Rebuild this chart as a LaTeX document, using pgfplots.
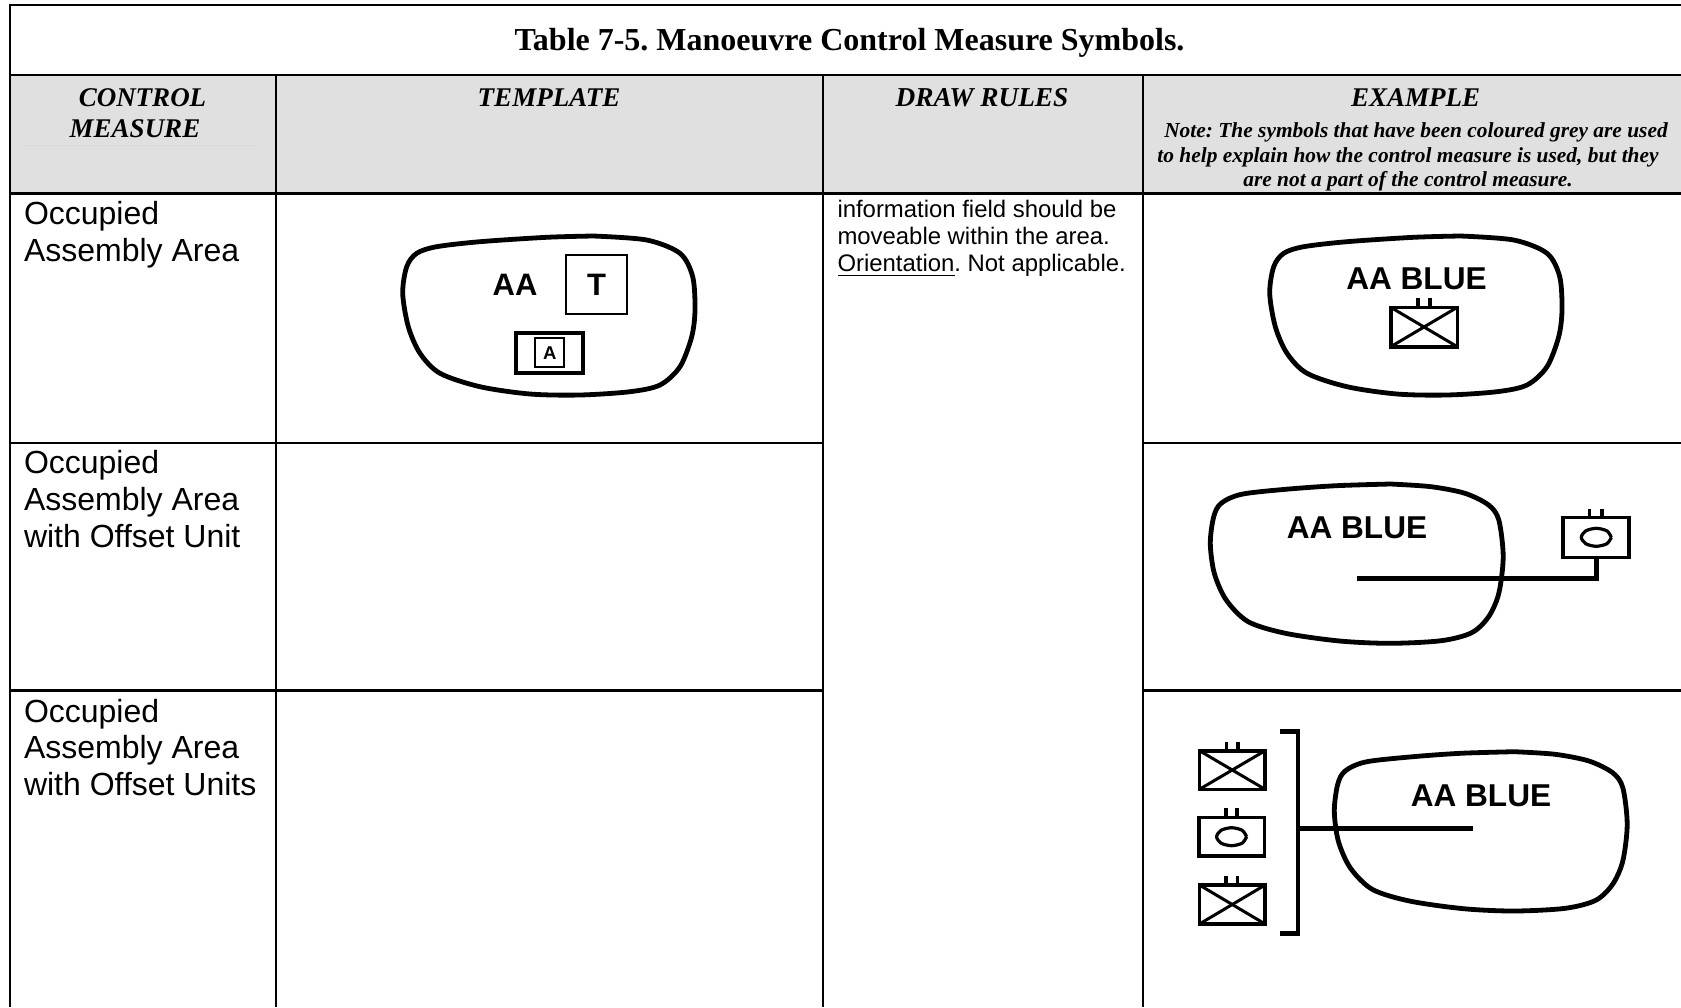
\documentclass[border=0pt]{standalone}
\usepackage{fontspec}
\setmainfont{Liberation Sans}
\newfontfamily\tms{Liberation Serif}
\usepackage{pgfplots}
\pgfplotsset{compat=1.18}
\newcommand\fs[1]{\fontsize{#1}{#1}\selectfont}
\newcommand\rect[5]{\addplot[line width=#1pt, line join=miter] coordinates {(#2,#3)(#4,#3)(#4,#5)(#2,#5)} --cycle;}
\newcommand\seg[5]{\addplot[line width=#1pt, line cap=butt] coordinates {(#2,#3)(#4,#5)};}
\begin{document}
\frenchspacing
\begin{tikzpicture}
\path[use as bounding box] (0,0) rectangle (1681pt,1007pt);
\begin{axis}[
  at={(0,0)}, anchor=south west,
  scale only axis, width=1681pt, height=1007pt,
  xmin=0, xmax=1681, ymin=0, ymax=1007, y dir=reverse,
  hide axis, clip=true,
  nodes={inner sep=0pt, outer sep=0pt}
]
% header fill
\addplot[fill=black!12, draw=none] coordinates {(10,75)(1681,75)(1681,193.5)(10,193.5)} --cycle;
\addplot[line width=0.6pt, color=black!15] coordinates {(22,145)(258,145)};
% grid
\seg{2.4}{10}{5}{1681}{5}
\seg{2.4}{10}{75}{1681}{75}
\seg{2.4}{10}{193.5}{1681}{193.5}
\seg{2.2}{10}{443}{823}{443}
\seg{2.2}{1143}{443}{1681}{443}
\seg{2.2}{10}{690.5}{823}{690.5}
\seg{2.2}{1143}{690.5}{1681}{690.5}
\seg{2.2}{10}{4}{10}{1007}
\seg{2.2}{276}{75}{276}{1007}
\seg{2.2}{823}{75}{823}{1007}
\seg{2.2}{1143}{75}{1143}{1007}
% blob 1
\addplot[smooth, line width=4.8pt] coordinates {(593.3,236)(546.7,237.3)(480,241.7)(436.7,246.7)(416.7,253.3)(406.7,266.7)(402.7,293.3)(408.3,326.7)(420,353.3)(440,373.3)(480,386.7)(530,394)(580,395)(630,391.7)(660,385)(680,366.7)(691.7,336.7)(695,310)(692.7,276.7)(680,253.3)(646.7,240)(593.3,236)};
% blob 2
\addplot[smooth, line width=4.8pt] coordinates {(1460.3,236)(1413.7,237.3)(1347,241.7)(1303.7,246.7)(1283.7,253.3)(1273.7,266.7)(1269.7,293.3)(1275.3,326.7)(1287,353.3)(1307,373.3)(1347,386.7)(1397,394)(1447,395)(1497,391.7)(1527,385)(1547,366.7)(1558.7,336.7)(1562,310)(1559.7,276.7)(1547,253.3)(1513.7,240)(1460.3,236)};
% blob 3
\addplot[smooth, line width=4.8pt] coordinates {(1390.4,484)(1336.3,485.7)(1285.5,489.3)(1241.4,494.3)(1221.1,503.3)(1213.7,516.7)(1210.3,543.3)(1214.3,573.3)(1226.2,600)(1248.2,621.7)(1285.5,633.3)(1339.6,641)(1390.4,643.3)(1441.2,640.7)(1471.7,632.7)(1488.6,616.7)(1498.8,593.3)(1503.2,556.7)(1498.8,520)(1488.6,505)(1464.9,493.3)(1431.1,486.7)(1390.4,484)};
% blob 4
\addplot[smooth, line width=4.8pt] coordinates {(1514.4,751.7)(1460.3,753.3)(1409.5,757)(1365.4,762)(1345.1,771)(1337.7,784.3)(1334.3,811)(1338.3,841)(1350.2,867.7)(1372.2,889.3)(1409.5,901)(1463.6,908.7)(1514.4,911)(1565.2,908.3)(1595.7,900.3)(1612.6,884.3)(1622.8,861)(1627.2,824.3)(1622.8,787.7)(1612.6,772.7)(1588.9,761)(1555.1,754.3)(1514.4,751.7)};
% template symbols
\rect{1.8}{566}{254.7}{626.7}{314.3}
\rect{3.8}{516}{332.7}{582.7}{372.7}
\rect{1.8}{535}{338}{564.3}{367}
% example 1 unit
\rect{3.6}{1390.7}{307.3}{1457.3}{346.7}
\seg{3}{1390.7}{307.3}{1457.3}{346.7}
\seg{3}{1390.7}{346.7}{1457.3}{307.3}
\seg{3.6}{1417.7}{298.3}{1417.7}{307.3}
\seg{3.6}{1430}{298.3}{1430}{307.3}
% example 2
\seg{5}{1357.2}{578.7}{1598.5}{578.7}
\seg{5}{1596.3}{581}{1596.3}{557.3}
\rect{3.6}{1563.1}{517.3}{1629.2}{557.3}
\seg{3.6}{1589.5}{509}{1589.5}{517.3}
\seg{3.6}{1602}{509}{1602}{517.3}
\addplot[smooth, line width=3.2pt] coordinates {(1611.3,537.3)(1606.9,530.9)(1596.3,528.3)(1585.7,530.9)(1581.3,537.3)(1585.7,543.7)(1596.3,546.3)(1606.9,543.7)(1611.3,537.3)};
% example 3
\addplot[line width=4.8pt, line join=miter] coordinates {(1280.4,731.3)(1298,731.3)(1298,933.3)(1279.7,933.3)};
\seg{5}{1299}{828.7}{1472.7}{828.7}
\rect{3.6}{1199.4}{750.7}{1265.1}{789.3}
\seg{3}{1199.4}{750.7}{1265.1}{789.3}
\seg{3}{1199.4}{789.3}{1265.1}{750.7}
\seg{3.6}{1226.5}{741.7}{1226.5}{750.7}
\seg{3.6}{1238}{741.7}{1238}{750.7}
\rect{3.6}{1199.1}{817.3}{1264.5}{856}
\seg{3.6}{1225.9}{808.3}{1225.9}{817.3}
\seg{3.6}{1237}{808.3}{1237}{817.3}
\addplot[smooth, line width=3.2pt] coordinates {(1246.6,836.7)(1242.2,830.3)(1231.6,827.7)(1221,830.3)(1216.6,836.7)(1221,843.1)(1231.6,845.7)(1242.2,843.1)(1246.6,836.7)};
\rect{3.6}{1199.4}{885}{1265.1}{924}
\seg{3}{1199.4}{885}{1265.1}{924}
\seg{3}{1199.4}{924}{1265.1}{885}
\seg{3.6}{1225.9}{876}{1225.9}{885}
\seg{3.6}{1237.4}{876}{1237.4}{885}
% title and header
\node[anchor=base] at (axis cs:849.5,50.5) {\tms\bfseries\fs{32}Table 7-5. Manoeuvre Control Measure Symbols.};
\node[anchor=base] at (axis cs:142.5,106) {\tms\bfseries\itshape\fs{27}CONTROL};
\node[anchor=base] at (axis cs:135,137) {\tms\bfseries\itshape\fs{27}MEASURE};
\node[anchor=base] at (axis cs:549,106) {\tms\bfseries\itshape\fs{27}TEMPLATE};
\node[anchor=base] at (axis cs:982,106) {\tms\bfseries\itshape\fs{27.3}DRAW RULES};
\node[anchor=base] at (axis cs:1415.5,106) {\tms\bfseries\itshape\fs{27}EXAMPLE};
\node[anchor=base] at (axis cs:1416,137) {\tms\bfseries\itshape\fs{21.4}Note: The symbols that have been coloured grey are used};
\node[anchor=base] at (axis cs:1408,162) {\tms\bfseries\itshape\fs{21.4}to help explain how the control measure is used, but they};
\node[anchor=base] at (axis cs:1408,186.7) {\tms\bfseries\itshape\fs{21.4}are not a part of the control measure.};
% first column
\node[anchor=base west] at (axis cs:24,224) {\fs{32}Occupied};
\node[anchor=base west] at (axis cs:24,261) {\fs{32}Assembly Area};
\node[anchor=base west] at (axis cs:24,473) {\fs{32}Occupied};
\node[anchor=base west] at (axis cs:24,510) {\fs{32}Assembly Area};
\node[anchor=base west] at (axis cs:24,547) {\fs{32}with Offset Unit};
\node[anchor=base west] at (axis cs:24,722.5) {\fs{32}Occupied};
\node[anchor=base west] at (axis cs:24,758) {\fs{32}Assembly Area};
\node[anchor=base west] at (axis cs:24,795) {\fs{32}with Offset Units};
% draw rules
\node[anchor=base west] at (axis cs:837.5,217) {\fs{23.9}information field should be};
\node[anchor=base west] at (axis cs:837.5,244) {\fs{23.9}moveable within the area.};
\node[anchor=base west] at (axis cs:837.5,271.5) {\fs{23.9}Orientation. Not applicable.};
\seg{1.8}{838}{275.5}{954.5}{275.5}
% symbol text
\node[anchor=base] at (axis cs:515,295) {\bfseries\fs{31}AA};
\node[anchor=base] at (axis cs:596.5,295) {\bfseries\fs{31}T};
\node[anchor=base] at (axis cs:549.7,359) {\bfseries\fs{18.5}A};
\node[anchor=base] at (axis cs:1416.5,289.3) {\bfseries\fs{31.6}AA BLUE};
\node[anchor=base] at (axis cs:1357,538.3) {\bfseries\fs{31.6}AA BLUE};
\node[anchor=base] at (axis cs:1481,806) {\bfseries\fs{31.6}AA BLUE};
\end{axis}
\end{tikzpicture}
\end{document}
